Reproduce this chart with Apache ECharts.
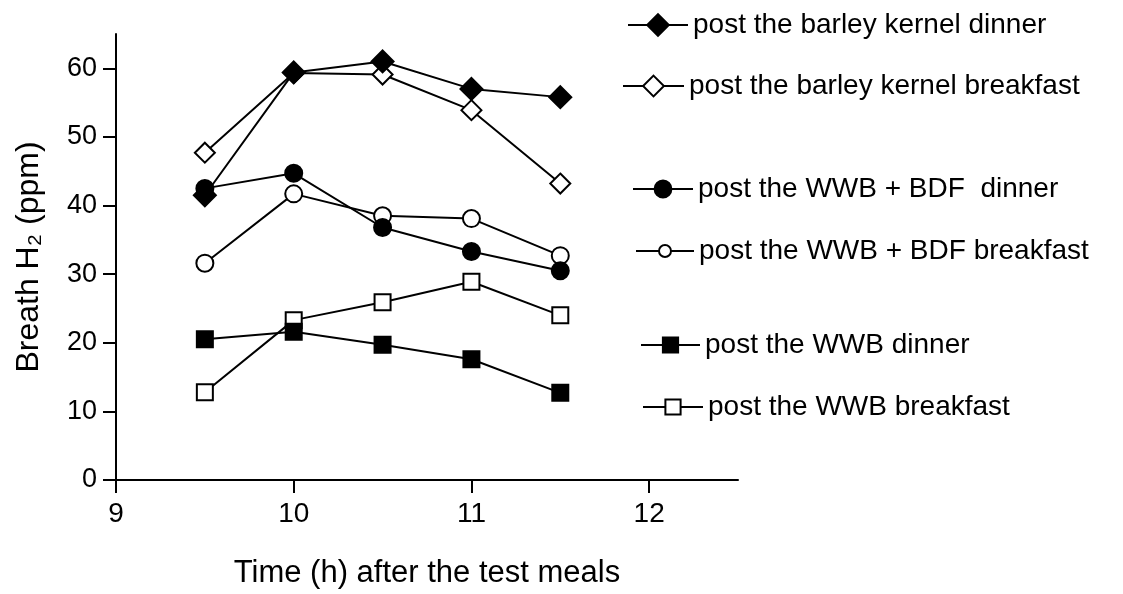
<!DOCTYPE html>
<html>
<head>
<meta charset="utf-8">
<script src="https://cdn.jsdelivr.net/npm/echarts@6/dist/echarts.min.js"></script>
<style>
  html, body { margin: 0; padding: 0; background: #fff; }
  #chart { width: 1123px; height: 594px; }
</style>
</head>
<body>
<div id="chart"></div>
<script>
// time points (h after the test meal)
const hours = [9.5, 10, 10.5, 11, 11.5];

// breath H2, ppm
const barleyDinner = [41.5, 59.4, 61.0, 57.0, 55.8];
const barleyBreakfast = [47.7, 59.3, 59.1, 53.9, 43.2];
const bdfDinner = [42.5, 44.7, 36.8, 33.3, 30.5];
const bdfBreakfast = [31.6, 41.7, 38.5, 38.1, 32.7];
const wwbDinner = [20.5, 21.6, 19.7, 17.6, 12.7];
const wwbBreakfast = [12.8, 23.3, 25.9, 28.9, 24.0];

const names = [
  'post the barley kernel dinner',
  'post the barley kernel breakfast',
  'post the WWB + BDF  dinner',
  'post the WWB + BDF breakfast',
  'post the WWB dinner',
  'post the WWB breakfast'
];

const xTicks = [9, 10, 11, 12];
const yTicks = [0, 10, 20, 30, 40, 50, 60];

const FONT = '"Liberation Sans", Arial, sans-serif';

const pairs = (vals) => hours.map((h, i) => [h, vals[i]]);

// symbol look per series
const looks = [
  { symbol: 'diamond', size: 22, filled: true },
  { symbol: 'diamond', size: 20, filled: false },
  { symbol: 'circle', size: 17, filled: true },
  { symbol: 'circle', size: 17, filled: false },
  { symbol: 'rect', size: 16, filled: true },
  { symbol: 'rect', size: 16, filled: false }
];
const values = [barleyDinner, barleyBreakfast, bdfDinner, bdfBreakfast, wwbDinner, wwbBreakfast];

// legend placement: icon left edge, row centre, icon size
const legendSpots = [
  { left: 627, mid: 25, w: 60, h: 27 },
  { left: 622, mid: 86, w: 61, h: 26 },
  { left: 632, mid: 189, w: 60, h: 21 },
  { left: 635, mid: 251, w: 58, h: 15 },
  { left: 640, mid: 345, w: 59, h: 19 },
  { left: 642, mid: 407, w: 60, h: 19 }
];

const series = names.map((name, i) => ({
  name: name,
  type: 'line',
  data: pairs(values[i]),
  symbol: looks[i].symbol,
  symbolSize: looks[i].size,
  z: looks[i].filled ? 4 : 3,
  lineStyle: { color: '#000', width: 2 },
  itemStyle: {
    color: looks[i].filled ? '#000' : '#fff',
    borderColor: '#000',
    borderWidth: 2
  },
  emphasis: { disabled: true },
  animation: false
}));

const legends = legendSpots.map((s, i) => ({
  data: [names[i]],
  left: s.left,
  top: s.mid - 14,
  itemWidth: s.w,
  itemHeight: s.h,
  padding: 0,
  selectedMode: false,
  textStyle: { fontSize: 28, color: '#000', fontFamily: FONT }
}));

const chart = echarts.init(document.getElementById('chart'));
chart.setOption({
  backgroundColor: '#fff',
  animation: false,
  grid: { left: 116, right: 385, top: 34, bottom: 112 },
  legend: legends,
  xAxis: {
    type: 'value',
    min: 9,
    max: 12.5,
    interval: 1,
    name: 'Time (h) after the test meals',
    nameLocation: 'middle',
    nameGap: 78,
    nameTextStyle: { fontSize: 31, color: '#000', fontFamily: FONT },
    axisLine: { onZero: false, lineStyle: { color: '#000', width: 2 } },
    axisTick: { customValues: xTicks, length: 13, lineStyle: { color: '#000', width: 2 } },
    axisLabel: { customValues: xTicks, fontSize: 28, color: '#000', fontFamily: FONT, margin: 20 },
    splitLine: { show: false }
  },
  yAxis: {
    type: 'value',
    min: 0,
    max: 65,
    interval: 10,
    name: 'Breath H₂ (ppm)',
    nameLocation: 'middle',
    nameGap: 71,
    nameTextStyle: { fontSize: 32, color: '#000', fontFamily: FONT },
    axisLine: { show: true, lineStyle: { color: '#000', width: 2 } },
    axisTick: { show: true, customValues: yTicks, length: 13, lineStyle: { color: '#000', width: 2 } },
    axisLabel: { customValues: yTicks, fontSize: 27, color: '#000', fontFamily: FONT, margin: 19 },
    splitLine: { show: false }
  },
  series: series
});
</script>
</body>
</html>
